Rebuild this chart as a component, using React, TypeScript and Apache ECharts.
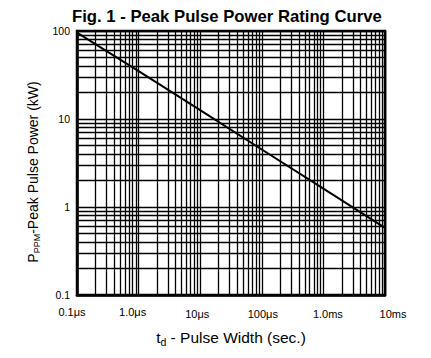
import React, { useEffect, useRef } from "react";
import * as echarts from "echarts";

const titleText = "Fig. 1 - Peak Pulse Power Rating Curve";
// pulse width in seconds
const pulseWidth = [1e-7, 1e-6, 1e-5, 1e-4, 1e-3, 1e-2];
// peak pulse power in kW
const peakPower = [96, 35, 12.6, 4.5, 1.62, 0.58];
const xTickValues = [1e-7, 1e-6, 1e-5, 1e-4, 1e-3, 1e-2];
const xTickNames = ["0.1μs", "1.0μs", "10μs", "100μs", "1.0ms", "10ms"];
const yTickValues = [0.1, 1, 10, 100];
const yTickNames = ["0.1", "1", "10", "100"];
const minorMultipliers = [2, 3, 4, 5, 6, 7, 8, 9];

const FONT = "'Liberation Sans', Arial, Helvetica, sans-serif";

function nearestIndex(values: number[], v: number) {
  let best = 0;
  let bd = Infinity;
  values.forEach((t, i) => {
    const d = Math.abs(Math.log10(t) - Math.log10(v));
    if (d < bd) {
      bd = d;
      best = i;
    }
  });
  return best;
}

export default function App() {
  const ref = useRef<HTMLDivElement>(null);
  useEffect(() => {
    if (!ref.current) return;
    const chart = echarts.init(ref.current, undefined, { renderer: "svg" });
    const xMin = xTickValues[0];
    const xMax = xTickValues[xTickValues.length - 1];
    const yMin = yTickValues[0];
    const yMax = yTickValues[yTickValues.length - 1];
    const minorLines: any[] = [];
    xTickValues.slice(0, -1).forEach((d) =>
      minorMultipliers.forEach((k) =>
        minorLines.push([{ coord: [k * d, yMin] }, { coord: [k * d, yMax] }])
      )
    );
    yTickValues.slice(0, -1).forEach((d) =>
      minorMultipliers.forEach((k) =>
        minorLines.push([{ coord: [xMin, k * d] }, { coord: [xMax, k * d] }])
      )
    );
    const data = pulseWidth.map((x, i) => [x, peakPower[i]]);
    const gridLine = { color: "#000", width: 1.3, type: "solid" as const };
    chart.setOption({
      animation: false,
      title: {
        text: titleText,
        left: 67,
        top: 3,
        textStyle: {
          fontFamily: FONT,
          fontSize: 16.7,
          fontWeight: "bold",
          color: "#000",
        },
      },
      grid: {
        left: 77,
        right: 46,
        top: 31,
        bottom: 63,
        show: true,
        borderColor: "#000",
        borderWidth: 2.5,
        backgroundColor: "#fff",
      },
      xAxis: {
        type: "log",
        logBase: 10,
        min: xMin,
        max: xMax,
        name: "{m|t}{s|d}{m| - Pulse Width (sec.)}",
        nameLocation: "middle",
        nameGap: 32,
        nameTextStyle: {
          rich: {
            m: { fontFamily: FONT, fontSize: 15.5, color: "#000", lineHeight: 20 },
            s: {
              fontFamily: FONT,
              fontSize: 10.5,
              color: "#000",
              verticalAlign: "bottom",
            },
          },
        },
        axisLine: { show: true, lineStyle: { color: "#000", width: 2.5 } },
        axisTick: { show: false },
        splitLine: { show: true, lineStyle: gridLine },
        axisLabel: {
          margin: 11,
          fontFamily: FONT,
          fontSize: 11,
          color: "#000",
          formatter: (v: number) => {
            const idx = nearestIndex(xTickValues, v);
            return `{l${idx}|${xTickNames[idx]}}`;
          },
          rich: {
            l0: { fontFamily: FONT, fontSize: 11, color: "#000", padding: [0, 10, 0, 0] },
            l1: { fontFamily: FONT, fontSize: 11, color: "#000", padding: [0, 12, 0, 0] },
            l2: { fontFamily: FONT, fontSize: 11, color: "#000", padding: [2, 6, 0, 0] },
            l3: { fontFamily: FONT, fontSize: 11, color: "#000", padding: [2, 0, 0, 2] },
            l4: { fontFamily: FONT, fontSize: 11, color: "#000", padding: [2, 0, 0, 9] },
            l5: { fontFamily: FONT, fontSize: 11, color: "#000", padding: [2, 0, 0, 16] },
          },
        },
      },
      yAxis: {
        type: "log",
        logBase: 10,
        min: yMin,
        max: yMax,
        name: "{m|P}{s|PPM}{m|-Peak Pulse Power (kW)}",
        nameLocation: "middle",
        nameRotate: 90,
        nameGap: 34,
        nameTextStyle: {
          padding: [0, 18, 0, 0],
          rich: {
            m: { fontFamily: FONT, fontSize: 14, color: "#000", lineHeight: 18 },
            s: {
              fontFamily: FONT,
              fontSize: 9,
              color: "#000",
              verticalAlign: "bottom",
            },
          },
        },
        axisLine: { show: true, lineStyle: { color: "#000", width: 2.5 } },
        axisTick: { show: false },
        splitLine: { show: true, lineStyle: gridLine },
        axisLabel: {
          margin: 7,
          fontFamily: FONT,
          fontSize: 10.5,
          color: "#000",
          formatter: (v: number) => yTickNames[nearestIndex(yTickValues, v)],
        },
      },
      series: [
        {
          type: "line",
          data,
          showSymbol: false,
          symbol: "none",
          lineStyle: { color: "#000", width: 2 },
          silent: true,
          z: 5,
          markLine: {
            silent: true,
            symbol: ["none", "none"],
            label: { show: false },
            lineStyle: gridLine,
            emphasis: { disabled: true },
            data: minorLines,
          },
        },
      ],
    });
    return () => chart.dispose();
  }, []);
  return (
    <div
      ref={ref}
      style={{ position: "absolute", left: 0, top: 0, width: 431, height: 358 }}
    />
  );
}
